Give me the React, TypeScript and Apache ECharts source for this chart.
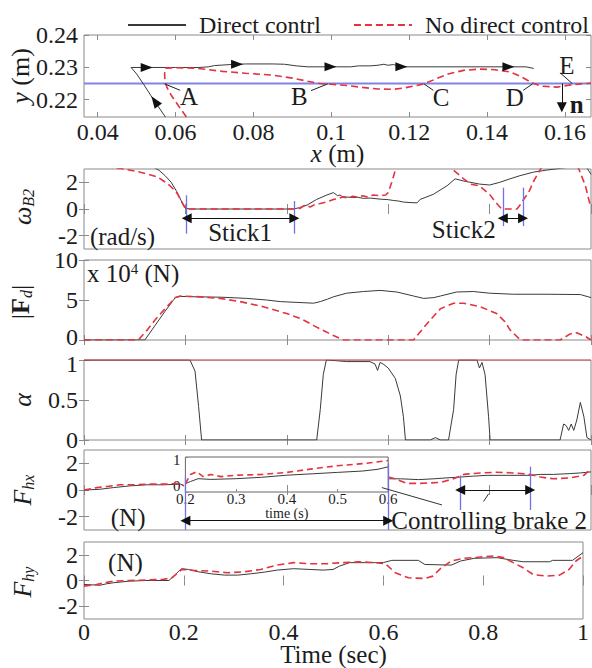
import React, { useEffect, useRef } from "react";
import * as echarts from "echarts";

const FONT = "'Liberation Serif', 'Times New Roman', Times, serif";
const INK = "#1c1c1c";
const FRAME = "#8a8a8a";
const DIRECT_COLOR = "#3a3a3a";
const NODIRECT_COLOR = "#e5323f";
const SURFACE_COLOR = "#8083e3";
const MARK_BLUE = "#6f72e0";

const LEGEND_NAMES = ["Direct contrl", "No direct control"];

// ---------- Panel 1: trajectory (x, y in m) ----------
const trajXRange = [0.0365, 0.1667];
const trajYRange = [0.2146, 0.2401];
const trajXTicks = [0.04, 0.06, 0.08, 0.1, 0.12, 0.14, 0.16];
const trajYTicks = [0.22, 0.23, 0.24];
const surfaceY = 0.225;

const directPathX = [0.0574, 0.0556, 0.0537, 0.0518, 0.05, 0.0486, 0.052, 0.06, 0.066, 0.0685, 0.07, 0.074, 0.078, 0.085, 0.088, 0.091, 0.094, 0.105, 0.107, 0.11, 0.112, 0.1135, 0.1145, 0.116, 0.118, 0.15, 0.152];
const directPathY = [0.2146, 0.2178, 0.2212, 0.2248, 0.228, 0.23, 0.23, 0.23, 0.23, 0.2302, 0.2306, 0.2309, 0.2311, 0.2311, 0.231, 0.2305, 0.2302, 0.2302, 0.2305, 0.2305, 0.2307, 0.231, 0.2307, 0.2309, 0.2302, 0.2302, 0.2297];

const noDirectPathX = [0.0628, 0.0608, 0.059, 0.0578, 0.0573, 0.0572, 0.0574, 0.06, 0.065, 0.068, 0.072, 0.078, 0.085, 0.09, 0.094, 0.097, 0.1, 0.104, 0.108, 0.112, 0.116, 0.119, 0.122, 0.124, 0.127, 0.13, 0.134, 0.138, 0.142, 0.146, 0.149, 0.1515, 0.154, 0.158, 0.161, 0.164, 0.1667];
const noDirectPathY = [0.2146, 0.218, 0.2212, 0.2238, 0.2258, 0.228, 0.2298, 0.2299, 0.2298, 0.2294, 0.2288, 0.2282, 0.2276, 0.2267, 0.2257, 0.225, 0.2248, 0.2244, 0.2238, 0.2233, 0.2232, 0.2237, 0.2244, 0.225, 0.2265, 0.228, 0.2291, 0.2295, 0.2293, 0.2286, 0.227, 0.2252, 0.2242, 0.2239, 0.2245, 0.2249, 0.2251];

const flowArrowX = [0.0526, 0.0758, 0.0998, 0.118, 0.1455];
const flowArrowY = [0.23, 0.231, 0.2302, 0.2302, 0.2302];
const climbArrow = [0.0547, 0.2195];

// ---------- Time panels ----------
const timeRange = [0, 1];
const timeTicks = [0, 0.2, 0.4, 0.6, 0.8, 1];

const omegaRange = [-3, 3];
const omegaTicks = [-2, 0, 2];
const omegaDirectT = [0, 0.13, 0.148, 0.16, 0.172, 0.183, 0.192, 0.2, 0.21, 0.3, 0.413, 0.425, 0.44, 0.459, 0.479, 0.492, 0.5, 0.505, 0.51, 0.518, 0.53, 0.54, 0.551, 0.565, 0.584, 0.6, 0.61, 0.62, 0.63, 0.645, 0.657, 0.663, 0.689, 0.716, 0.732, 0.749, 0.78, 0.8, 0.82, 0.84, 0.86, 0.887, 0.913, 0.95, 0.99, 1.0];
const omegaDirectV = [3.6, 3.3, 2.9, 2.5, 2.0, 1.3, 0.6, 0.05, 0, 0, 0, 0.1, 0.3, 0.72, 1.05, 1.23, 1.0, 1.05, 0.92, 0.9, 0.86, 0.88, 0.8, 0.82, 0.74, 0.7, 0.64, 0.6, 0.52, 0.48, 0.46, 0.72, 1.1, 1.74, 2.26, 2.1, 1.87, 1.8, 2.0, 2.26, 2.5, 2.77, 2.92, 3.1, 3.2, 2.6];
const omegaNoDirectT = [0, 0.07, 0.1, 0.124, 0.145, 0.157, 0.168, 0.176, 0.185, 0.19, 0.196, 0.2, 0.206, 0.3, 0.413, 0.426, 0.436, 0.446, 0.456, 0.466, 0.48, 0.492, 0.5, 0.51, 0.52, 0.53, 0.54, 0.55, 0.56, 0.57, 0.584, 0.595, 0.6, 0.607, 0.614, 0.62, 0.72, 0.729, 0.749, 0.762, 0.78, 0.8, 0.812, 0.824, 0.854, 0.86, 0.867, 0.877, 0.887, 0.897, 0.905, 0.97, 0.976, 0.989, 0.999];
const omegaNoDirectV = [3.4, 3.05, 2.85, 2.64, 2.4, 2.1, 1.8, 1.5, 1.1, 0.72, 0.3, 0.05, 0, 0, 0, 0.05, 0.3, 0.15, 0.35, 0.41, 0.55, 0.72, 0.78, 0.9, 0.82, 0.95, 0.88, 1.0, 0.9, 1.05, 1.0, 1.05, 1.23, 2.0, 2.9, 3.5, 3.5, 2.9, 2.26, 1.87, 1.74, 1.1, 0.5, 0, 0, 0.3, 0.72, 1.23, 2.1, 2.77, 3.3, 3.4, 3.0, 1.74, 0.2];

const fdRange = [0, 10];
const fdTicks = [0, 5, 10];
const fdDirectT = [0, 0.12, 0.14, 0.16, 0.18, 0.19, 0.222, 0.27, 0.321, 0.36, 0.387, 0.42, 0.453, 0.466, 0.48, 0.492, 0.518, 0.551, 0.584, 0.617, 0.65, 0.67, 0.69, 0.703, 0.735, 0.768, 0.8, 0.847, 0.913, 0.979, 1.0];
const fdDirectV = [0, 0, 1.8, 3.6, 5.3, 5.45, 5.4, 5.35, 5.2, 5.0, 4.8, 4.7, 4.6, 4.8, 5.1, 5.4, 5.85, 6.06, 6.2, 6.0, 5.5, 5.2, 5.3, 5.5, 6.0, 6.06, 5.85, 5.72, 5.72, 5.68, 5.3];
const fdNoDirectT = [0, 0.107, 0.124, 0.14, 0.157, 0.17, 0.18, 0.19, 0.222, 0.268, 0.308, 0.354, 0.4, 0.43, 0.453, 0.475, 0.492, 0.512, 0.65, 0.663, 0.676, 0.69, 0.703, 0.729, 0.749, 0.782, 0.814, 0.83, 0.841, 0.861, 0.939, 0.959, 0.972, 0.99, 1.0];
const fdNoDirectV = [0, 0, 1.2, 2.5, 3.7, 4.6, 5.3, 5.5, 5.42, 5.2, 4.8, 4.15, 3.3, 2.6, 1.8, 1.1, 0.55, 0, 0, 1.0, 2.0, 3.0, 3.9, 4.6, 4.6, 4.15, 3.3, 2.3, 1.2, 0, 0, 0.76, 0.9, 0.4, 0];

const alphaRange = [0, 1];
const alphaTicks = [0, 0.5, 1];
const alphaDirectT = [0, 0.209, 0.219, 0.226, 0.232, 0.459, 0.466, 0.472, 0.478, 0.5, 0.518, 0.564, 0.574, 0.579, 0.584, 0.59, 0.6, 0.614, 0.624, 0.63, 0.634, 0.683, 0.693, 0.703, 0.719, 0.729, 0.734, 0.739, 0.775, 0.78, 0.785, 0.791, 0.798, 0.801, 0.939, 0.946, 0.951, 0.956, 0.961, 0.966, 0.972, 0.979, 0.986, 0.992, 1.0];
const alphaDirectV = [1, 1, 0.86, 0.42, 0, 0, 0.38, 0.82, 1, 0.99, 0.98, 0.98, 0.95, 0.87, 0.97, 0.95, 0.9, 0.77, 0.55, 0.29, 0, 0, 0.03, 0, 0, 0.38, 0.82, 1, 1, 0.9, 0.97, 0.82, 0.29, 0, 0, 0.2, 0.18, 0.12, 0.2, 0.12, 0.25, 0.47, 0.29, 0.03, 0];
const alphaNoDirectT = [0, 1];
const alphaNoDirectV = [1, 1];

const fhxRange = [-3, 3];
const fhxTicks = [-2, 0, 2];
const fhxDirectT1 = [0, 0.03, 0.058, 0.091, 0.124, 0.157, 0.19, 0.197];
const fhxDirectV1 = [0, 0.05, 0.18, 0.31, 0.39, 0.39, 0.44, 0.31];
const fhxDirectT2 = [0.6, 0.603, 0.624, 0.66, 0.69, 0.716, 0.742, 0.768, 0.795, 0.834, 0.88, 0.9, 0.926, 0.959, 0.979, 1.0];
const fhxDirectV2 = [0.84, 0.84, 0.84, 0.78, 0.84, 0.91, 0.97, 1.04, 1.1, 1.1, 1.1, 1.17, 1.17, 1.23, 1.28, 1.36];
const fhxNoDirectT1 = [0, 0.025, 0.045, 0.071, 0.097, 0.124, 0.157, 0.19, 0.197];
const fhxNoDirectV1 = [0, 0.18, 0.26, 0.39, 0.39, 0.44, 0.44, 0.5, 0.31];
const fhxNoDirectT2 = [0.6, 0.614, 0.637, 0.663, 0.703, 0.729, 0.749, 0.782, 0.814, 0.847, 0.88, 0.9, 0.926, 0.959, 0.986, 1.0];
const fhxNoDirectV2 = [0.97, 0.84, 0.5, 0.5, 0.57, 0.84, 1.17, 1.28, 1.33, 1.28, 1.17, 0.97, 0.84, 0.91, 1.1, 1.6];

// inset (time 0.2–0.6, normalised 0–1)
const insetXRange = [0.2, 0.6];
const insetXTicks = [0.2, 0.3, 0.4, 0.5, 0.6];
const insetYRange = [0, 1];
const insetYTicks = [0, 1];
const insetDirectT = [0.2, 0.21, 0.225, 0.25, 0.3, 0.35, 0.4, 0.45, 0.5, 0.55, 0.58, 0.6];
const insetDirectV = [0.24, 0.3, 0.38, 0.36, 0.38, 0.42, 0.48, 0.52, 0.56, 0.6, 0.65, 0.72];
const insetNoDirectT = [0.2, 0.21, 0.222, 0.235, 0.25, 0.27, 0.3, 0.35, 0.4, 0.45, 0.5, 0.55, 0.6];
const insetNoDirectV = [0.24, 0.5, 0.58, 0.44, 0.5, 0.44, 0.48, 0.5, 0.56, 0.66, 0.75, 0.81, 0.9];

const fhyRange = [-3, 3];
const fhyTicks = [-2, 0, 2];
const fhyDirectT = [0, 0.032, 0.045, 0.058, 0.091, 0.124, 0.17, 0.18, 0.19, 0.196, 0.209, 0.229, 0.255, 0.282, 0.308, 0.334, 0.361, 0.387, 0.42, 0.453, 0.479, 0.499, 0.512, 0.532, 0.584, 0.6, 0.617, 0.67, 0.683, 0.736, 0.755, 0.782, 0.828, 0.86, 0.88, 0.933, 0.939, 0.979, 1.0];
const fhyDirectV = [-0.31, -0.37, -0.26, -0.18, -0.05, 0, 0, 0.34, 0.73, 0.92, 0.86, 0.68, 0.52, 0.42, 0.42, 0.52, 0.65, 0.81, 0.92, 0.86, 0.81, 0.86, 1.12, 1.39, 1.39, 1.4, 1.57, 1.57, 1.25, 1.2, 1.52, 1.73, 1.78, 1.57, 1.46, 1.46, 1.57, 1.57, 2.17];
const fhyNoDirectT = [0, 0.025, 0.058, 0.091, 0.157, 0.176, 0.196, 0.222, 0.255, 0.288, 0.321, 0.354, 0.387, 0.42, 0.453, 0.486, 0.518, 0.551, 0.584, 0.604, 0.624, 0.65, 0.683, 0.699, 0.716, 0.736, 0.762, 0.795, 0.821, 0.841, 0.86, 0.88, 0.9, 0.926, 0.953, 0.972, 0.986, 1.0];
const fhyNoDirectV = [-0.44, -0.31, -0.05, 0, 0.08, 0.2, 0.86, 0.78, 0.73, 0.6, 0.68, 0.86, 1.2, 1.39, 1.31, 1.31, 1.39, 1.46, 1.39, 1.31, 0.6, 0.21, 0.16, 0.34, 0.99, 1.52, 1.73, 1.83, 1.91, 1.78, 1.39, 0.99, 0.47, 0.34, 0.42, 0.86, 1.52, 1.91];

// ---------- Layout ----------
const PLOT_LEFT = 84;
const PLOT_W = 507;
const TRAJ_TOP = 35;
const TRAJ_H = 82;
const PANEL_TOPS = [169, 260, 360, 450, 542];
const PANEL_H = 80;
const INSET_TOP = 457;
const INSET_H = 35;

const zip = (a: number[], b: number[]) => a.map((v, i) => [v, b[i]]);
const fmt = (v: number) => String(Math.round(v * 1000) / 1000);

// label nudges (rich padding) used where neighbouring panels' labels sit close together
const nudgedLabels = (font: number, lowValue: number | null, highValue: number | null, lowPad: number, highPad: number) => ({
  formatter: (v: number) => (v === lowValue ? "{lo|" + fmt(v) + "}" : v === highValue ? "{hi|" + fmt(v) + "}" : "{m|" + fmt(v) + "}"),
  rich: {
    lo: { fontFamily: FONT, fontSize: font, color: INK, padding: [0, 0, lowPad, 0] },
    hi: { fontFamily: FONT, fontSize: font, color: INK, padding: [highPad, 0, 0, 0] },
    m: { fontFamily: FONT, fontSize: font, color: INK },
  },
});

function buildOption() {
  const xAxis: any[] = [];
  const yAxis: any[] = [];

  function addAxes(grid: number, xr: number[], xt: number[], yr: number[], yt: number[], o: any = {}) {
    const font = o.font ?? 24;
    const tickLen = o.tickLen ?? 5;
    const tick = (vals: number[]) => ({ show: true, inside: true, length: tickLen, customValues: vals, lineStyle: { color: FRAME, width: 1 } });
    const label = (vals: number[], margin: number, extra: any = {}) => ({
      show: true, customValues: vals, formatter: fmt, fontFamily: FONT, fontSize: font, color: INK, margin, lineHeight: Math.round(font * 0.8), ...extra,
    });
    const common = { type: "value", gridIndex: grid, splitLine: { show: false }, axisLine: { show: false } };
    const nf = o.nameFont ?? 25;
    xAxis.push({
      ...common, position: "bottom", min: xr[0], max: xr[1], axisTick: tick(xt),
      axisLabel: o.xLabels ? label(xt, o.xLabelMargin ?? 4) : { show: false },
      name: o.xName, nameLocation: "middle", nameGap: o.xNameGap ?? 26, nameMoveOverlap: false,
      nameTextStyle: { fontFamily: FONT, fontSize: nf, lineHeight: Math.round(nf * 0.85), color: INK, rich: { i: { fontStyle: "italic", fontFamily: FONT, fontSize: nf, lineHeight: Math.round(nf * 0.85), color: INK } } },
    });
    xAxis.push({ ...common, position: "top", min: xr[0], max: xr[1], axisTick: o.noTopTicks ? { show: false } : tick(xt), axisLabel: { show: false } });
    yAxis.push({ ...common, position: "left", min: yr[0], max: yr[1], axisTick: tick(yt), axisLabel: label(yt, o.yLabelMargin ?? 6, o.yLabelExtra ?? {}) });
    yAxis.push({ ...common, position: "right", min: yr[0], max: yr[1], axisTick: o.noTopTicks ? { show: false } : tick(yt), axisLabel: { show: false } });
  }

  addAxes(0, trajXRange, trajXTicks, trajYRange, trajYTicks, { xLabels: true, xName: "{i|x} (m)", xNameGap: 26, xLabelMargin: 5 });
  addAxes(1, timeRange, timeTicks, omegaRange, omegaTicks);
  addAxes(2, timeRange, timeTicks, fdRange, fdTicks, { yLabelExtra: nudgedLabels(24, 0, null, 6, 0) });
  addAxes(3, timeRange, timeTicks, alphaRange, alphaTicks, { yLabelExtra: nudgedLabels(24, null, 1, 0, 8) });
  addAxes(4, timeRange, timeTicks, fhxRange, fhxTicks);
  addAxes(5, timeRange, timeTicks, fhyRange, fhyTicks, { xLabels: true, xName: "Time (sec)", xNameGap: 25, xLabelMargin: 3 });
  addAxes(6, insetXRange, insetXTicks, insetYRange, insetYTicks, {
    xLabels: true, font: 15, tickLen: 3, xLabelMargin: 1, yLabelMargin: 5, xName: "time (s)", xNameGap: 15, nameFont: 14, noTopTicks: true,
    yLabelExtra: nudgedLabels(15, 0, 1, 12, 6),
  });

  const gridBox = (top: number, height: number, left = PLOT_LEFT, width = PLOT_W, border = FRAME) => ({
    left, top, width, height, show: true, borderColor: border, borderWidth: 1, backgroundColor: "#fff",
  });
  const grid = [
    gridBox(TRAJ_TOP, TRAJ_H),
    ...PANEL_TOPS.map((t) => gridBox(t, PANEL_H)),
    gridBox(INSET_TOP, INSET_H, PLOT_LEFT + PLOT_W * (insetXRange[0] - timeRange[0]), PLOT_W * (insetXRange[1] - insetXRange[0]), "#666"),
  ];

  const directStyle = { color: DIRECT_COLOR, width: 1 };
  const noDirectStyle = { color: NODIRECT_COLOR, width: 1.6, type: [7, 4] };
  const line = (name: string, data: any[], g: number, direct: boolean, extra: any = {}) => ({
    type: "line", name, data, xAxisIndex: 2 * g, yAxisIndex: 2 * g, symbol: "none", showSymbol: false,
    silent: true, animation: false, clip: true,
    lineStyle: direct ? directStyle : noDirectStyle,
    itemStyle: { color: direct ? DIRECT_COLOR : NODIRECT_COLOR },
    z: direct ? 3 : 4,
    ...extra,
  });

  const textMark = (coord: number[], text: string, opts: any = {}) => ({
    coord, symbol: "circle", symbolSize: 0, itemStyle: { color: "rgba(0,0,0,0)" },
    label: { show: true, position: "inside", formatter: text, fontFamily: FONT, fontSize: 25, color: INK, ...opts },
  });
  const triMark = (coord: number[], rotate: number) => ({
    coord, symbol: "triangle", symbolSize: [9, 12], symbolRotate: rotate, itemStyle: { color: "#111" }, label: { show: false },
  });
  const seg = (from: number[], to: number[], color: string, width: number, s0 = "none", s1 = "none") => [
    { coord: from, symbol: s0, lineStyle: { color, width, type: "solid" } },
    { coord: to, symbol: s1 },
  ];
  const markLine = (data: any[]) => ({ silent: true, symbolSize: 10, label: { show: false }, emphasis: { disabled: true }, data });
  const markPoint = (data: any[]) => ({ silent: true, data });

  const series: any[] = [];

  // panel 1
  series.push(line(LEGEND_NAMES[0], zip(directPathX, directPathY), 0, true, {
    markPoint: markPoint([
      ...flowArrowX.map((x, i) => triMark([x, flowArrowY[i]], -90)),
      triMark(climbArrow, 35),
      textMark([0.0635, 0.2211], "A"),
      textMark([0.0918, 0.2211], "B"),
      textMark([0.1282, 0.2208], "C"),
      textMark([0.1471, 0.2208], "D"),
      textMark([0.1605, 0.2305], "E"),
      textMark([0.163, 0.2185], "n", { fontWeight: "bold" }),
    ]),
    markLine: markLine([
      seg([0.0572, 0.2249], [0.0612, 0.2229], "#222", 1),
      seg([0.0991, 0.2249], [0.0948, 0.2228], "#222", 1),
      seg([0.1238, 0.2249], [0.1262, 0.2229], "#222", 1),
      seg([0.1517, 0.2249], [0.1493, 0.2229], "#222", 1),
      seg([0.1588, 0.2283], [0.1619, 0.225], "#222", 1),
      seg([0.1592, 0.225], [0.1592, 0.2176], "#111", 1, "none", "triangle"),
    ]),
  }));
  series.push(line(LEGEND_NAMES[1], zip(noDirectPathX, noDirectPathY), 0, false));
  series.push({
    type: "line", name: "surface", data: [[trajXRange[0], surfaceY], [trajXRange[1], surfaceY]],
    xAxisIndex: 0, yAxisIndex: 0, symbol: "none", silent: true, lineStyle: { color: SURFACE_COLOR, width: 2 }, z: 2,
  });

  // panel 2: omega
  series.push(line(LEGEND_NAMES[0], zip(omegaDirectT, omegaDirectV), 1, true, {
    markLine: markLine([
      seg([0.2025, 1.03], [0.2025, -1.85], MARK_BLUE, 1.3),
      seg([0.415, 0.6], [0.415, -1.85], MARK_BLUE, 1.3),
      seg([0.826, 1.6], [0.826, -1.28], MARK_BLUE, 1.3),
      seg([0.866, 1.6], [0.866, -1.28], MARK_BLUE, 1.3),
      seg([0.2025, -0.7], [0.415, -0.7], "#111", 1, "triangle", "triangle"),
      seg([0.826, -0.7], [0.866, -0.7], "#111", 1, "triangle", "triangle"),
    ]),
    markPoint: markPoint([
      textMark([0.076, -2.05], "(rad/s)"),
      textMark([0.308, -1.75], "Stick1"),
      textMark([0.749, -1.5], "Stick2"),
    ]),
  }));
  series.push(line(LEGEND_NAMES[1], zip(omegaNoDirectT, omegaNoDirectV), 1, false));

  // panel 3: |Fd|
  series.push(line(LEGEND_NAMES[0], zip(fdDirectT, fdDirectV), 2, true, {
    markPoint: markPoint([
      textMark([0.006, 8.3], "{n|x 10}{s|4}{n| (N)}", {
        align: "left",
        rich: { n: { fontFamily: FONT, fontSize: 25, color: INK }, s: { fontFamily: FONT, fontSize: 15, color: INK, verticalAlign: "top" } },
      }),
    ]),
  }));
  series.push(line(LEGEND_NAMES[1], zip(fdNoDirectT, fdNoDirectV), 2, false));

  // panel 4: alpha
  series.push(line(LEGEND_NAMES[0], zip(alphaDirectT, alphaDirectV), 3, true));
  series.push(line(LEGEND_NAMES[1], zip(alphaNoDirectT, alphaNoDirectV), 3, false, { lineStyle: { color: NODIRECT_COLOR, width: 1.2 } }));

  // panel 5: Fhx
  series.push(line(LEGEND_NAMES[0], zip(fhxDirectT1, fhxDirectV1), 4, true, {
    markLine: markLine([
      seg([0.2, 1.0], [0.2, -2.98], MARK_BLUE, 1.3),
      seg([0.6, 2.0], [0.6, -2.98], MARK_BLUE, 1.3),
      seg([0.742, 1.1], [0.742, -1.5], MARK_BLUE, 1.3),
      seg([0.88, 1.75], [0.88, -1.5], MARK_BLUE, 1.3),
      seg([0.2, -2.3], [0.6, -2.3], "#111", 1, "triangle", "triangle"),
      seg([0.742, 0], [0.88, 0], "#111", 1, "triangle", "triangle"),
      seg([0.5875, 0.18], [0.706, -1.12], "#333", 1),
      seg([0.788, -0.86], [0.798, -0.29], "#333", 1),
    ]),
    markPoint: markPoint([
      textMark([0.087, -2.04], "(N)"),
      textMark([0.606, -2.3], "Controlling brake 2", { align: "left" }),
    ]),
  }));
  series.push(line(LEGEND_NAMES[0], zip(fhxDirectT2, fhxDirectV2), 4, true));
  series.push(line(LEGEND_NAMES[1], zip(fhxNoDirectT1, fhxNoDirectV1), 4, false));
  series.push(line(LEGEND_NAMES[1], zip(fhxNoDirectT2, fhxNoDirectV2), 4, false));

  // panel 6: Fhy
  series.push(line(LEGEND_NAMES[0], zip(fhyDirectT, fhyDirectV), 5, true, {
    markPoint: markPoint([textMark([0.083, 1.39], "(N)")]),
  }));
  series.push(line(LEGEND_NAMES[1], zip(fhyNoDirectT, fhyNoDirectV), 5, false));

  // inset
  series.push(line(LEGEND_NAMES[0], zip(insetDirectT, insetDirectV), 6, true));
  series.push(line(LEGEND_NAMES[1], zip(insetNoDirectT, insetNoDirectV), 6, false, { lineStyle: { color: NODIRECT_COLOR, width: 1.6, type: [6, 4] } }));

  const titleRich = {
    i: { fontStyle: "italic", fontFamily: FONT, fontSize: 26, fill: INK, lineHeight: 28 },
    b: { fontWeight: "bold", fontFamily: FONT, fontSize: 26, fill: INK, lineHeight: 28 },
    s: { fontStyle: "italic", fontFamily: FONT, fontSize: 16, fill: INK, verticalAlign: "bottom", lineHeight: 18 },
    p: { fontFamily: FONT, fontSize: 26, fill: INK, lineHeight: 28 },
  };
  const yTitle = (x: number, y: number, text: string) => ({
    type: "text", x, y, rotation: Math.PI / 2, silent: true,
    style: { text, rich: titleRich, fontFamily: FONT, fontSize: 26, fill: INK, align: "center", verticalAlign: "middle" },
  });

  return {
    animation: false,
    backgroundColor: "#fff",
    legend: {
      data: LEGEND_NAMES, left: 122, top: 8, width: 530, itemWidth: 58, itemHeight: 14, itemGap: 32,
      selectedMode: false,
      itemStyle: { opacity: 0 },
      textStyle: { fontFamily: FONT, fontSize: 24, color: INK, padding: [0, 0, 0, 8] },
    },
    grid, xAxis, yAxis, series,
    graphic: [
      yTitle(20, 76, "{i|y}{p| (m)}"),
      yTitle(22, 207, "{i|ω}{s|B2}"),
      yTitle(20, 302, "{p||}{b|F}{s|d}{p||}"),
      yTitle(22, 400, "{i|α}"),
      yTitle(22, 490, "{i|F}{s|hx}"),
      yTitle(22, 582, "{i|F}{s|hy}"),
    ],
  };
}

export default function App() {
  const ref = useRef<HTMLDivElement>(null);
  useEffect(() => {
    if (!ref.current) return;
    const chart = echarts.init(ref.current, undefined, { renderer: "svg" });
    chart.setOption(buildOption() as any);
    return () => chart.dispose();
  }, []);
  return <div ref={ref} style={{ position: "fixed", left: 0, top: 0, width: 592, height: 668, background: "#fff" }} />;
}
